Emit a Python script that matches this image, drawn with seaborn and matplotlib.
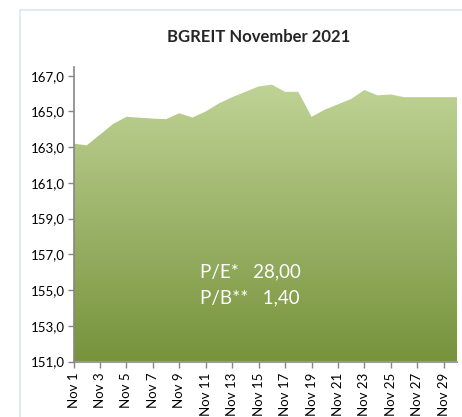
import numpy as np
import pandas as pd
import matplotlib
matplotlib.use("Agg")
import matplotlib.pyplot as plt
import matplotlib.colors as mcolors
from matplotlib.lines import Line2D
import seaborn as sb

days = list(range(1, 31))
labels = ["Nov %d" % d for d in days]
values = [163.2, 163.1, 163.7, 164.3, 164.7, 164.65, 164.6, 164.57, 164.9, 164.66,
          165.0, 165.45, 165.8, 166.1, 166.4, 166.5, 166.1, 166.1, 164.7, 165.1,
          165.4, 165.7, 166.2, 165.9, 165.95, 165.8, 165.8, 165.8, 165.8, 165.8]
yticks = [151, 153, 155, 157, 159, 161, 163, 165, 167]

df = pd.DataFrame({"idx": np.arange(len(days)), "label": labels, "value": values})

sb.set_style("white")
plt.rcParams['font.family'] = ['Lato', 'DejaVu Sans']

fig = plt.figure(figsize=(4.62, 4.17), dpi=100)
ax = fig.add_axes([73.5 / 462, 1 - 361.5 / 417, (457 - 73.5) / 462, (361.5 - 66.8) / 417])

sb.lineplot(data=df, x="idx", y="value", ax=ax, linewidth=0, color="#c3d69b")
ymin, ymax = 151, 167.5
poly = ax.fill_between(df["idx"], ymin, df["value"], color="none", lw=0)

# vertical gradient clipped to the area
cmap = mcolors.LinearSegmentedColormap.from_list("g", ["#77933c", "#c4d79b"])
grad = np.linspace(0, 1, 256).reshape(-1, 1)
img = ax.imshow(grad, cmap=cmap, aspect="auto", origin="lower",
                extent=[0, len(days) - 1, ymin, ymax], zorder=1)
path = poly.get_paths()[0]
img.set_clip_path(path, transform=ax.transData)

ax.set_xlim(0, len(days) - 1)
ax.set_ylim(ymin, ymax)
ax.set_yticks(yticks)
ax.set_yticklabels([("%.1f" % v).replace(".", ",") for v in yticks], fontsize=9.5)
ax.set_xticks(df["idx"][::2])
ax.set_xticklabels(df["label"][::2], rotation=90, fontsize=9.5)
ax.set_xlabel("")
ax.set_ylabel("")

for s in ["top", "right"]:
    ax.spines[s].set_visible(False)
for s in ["left", "bottom"]:
    ax.spines[s].set_color("#868686")
    ax.spines[s].set_linewidth(1.2)
ax.tick_params(axis="both", direction="out", length=4, width=1, color="#868686",
               labelcolor="black", pad=2, left=True, bottom=True)
ax.tick_params(axis="x", pad=4)

ax.text(0.33, 0.305, "P/E*   28,00", transform=ax.transAxes, color="white",
        fontsize=13.5, va="center", ha="left")
ax.text(0.33, 0.215, "P/B**   1,40", transform=ax.transAxes, color="white",
        fontsize=13.5, va="center", ha="left")

fig.text(259 / 462, 1 - 37 / 417, "BGREIT November 2021", ha="center", va="center",
         fontsize=12, fontweight="bold")

# chart frame (partially visible)
fig.add_artist(Line2D([19.5 / 462, 19.5 / 462], [0, 1 - 10 / 417], color="#dce6f2", lw=1.2))
fig.add_artist(Line2D([19.5 / 462, 1], [1 - 10 / 417, 1 - 10 / 417], color="#dce6f2", lw=1.2))

plt.savefig("out.png", dpi=100)
